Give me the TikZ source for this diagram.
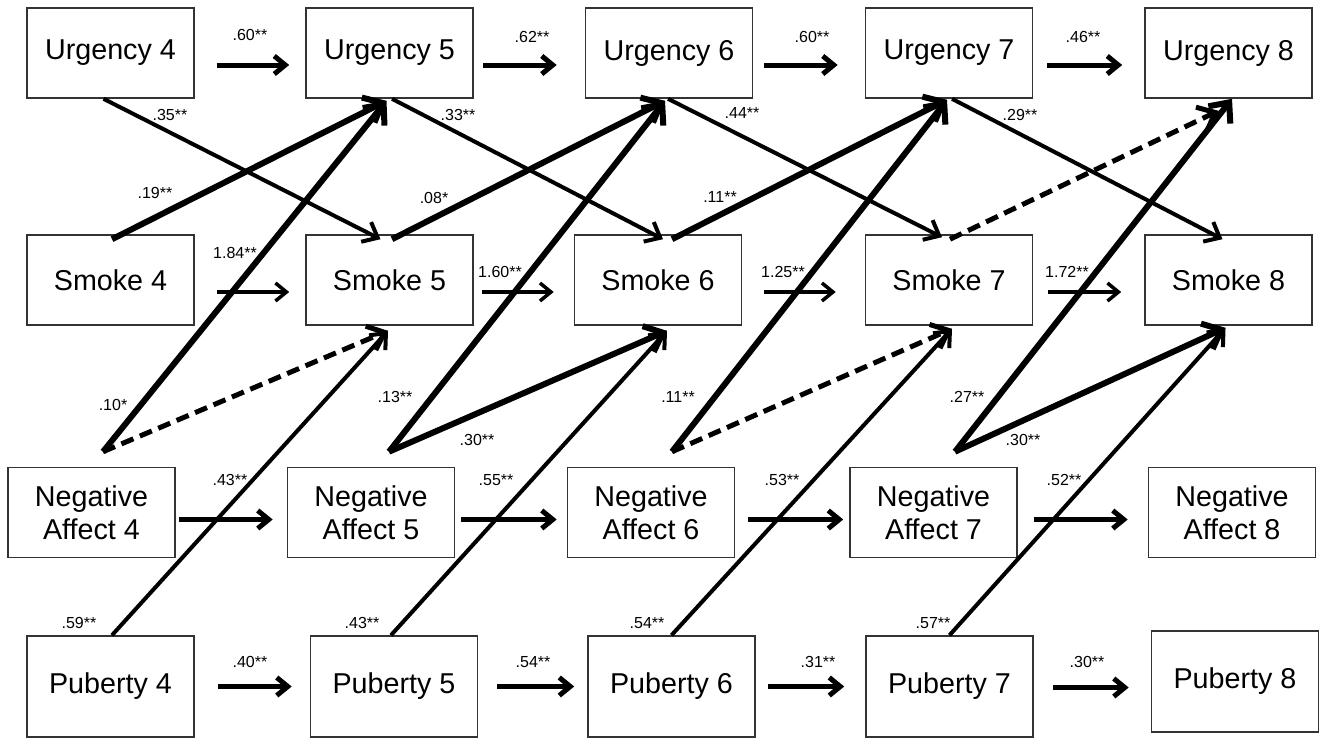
\documentclass[tikz,border=0pt]{standalone}
\usepackage{fontspec}
\setmainfont{Liberation Sans}
\usetikzlibrary{arrows.meta}

\tikzset{
  var/.style={shape=rectangle,draw=black!80,line width=1.6pt,minimum width=167pt,
    minimum height=90pt,inner sep=0pt,align=center,font=\fontsize{28.7}{33}\selectfont},
  coef/.style={inner sep=0pt,font=\fontsize{16}{18}\selectfont},
  lag/.style={-{Straight Barb[length=11pt,width=18pt]},line width=5pt},
  lagthin/.style={-{Straight Barb[length=11pt,width=18pt]},line width=3.5pt},
  thin/.style={-{Straight Barb[length=13pt,width=22pt]},line width=4pt},
  thick/.style={-{Straight Barb[length=16pt,width=28pt]},line width=6pt},
  nonsig/.style={-{Straight Barb[length=15pt,width=26pt]},line width=5pt,dash pattern=on 13pt off 7pt}
}

\begin{document}
\begin{tikzpicture}[x=1pt,y=-1pt]
\useasboundingbox[fill=white] (0,0) rectangle (1319,739);

% variables
\node(u4) at (110.5,53)[var]   {Urgency 4};
\node(u5) at (389.5,53)[var]   {Urgency 5};
\node(u6) at (669,53)[var]     {Urgency 6};
\node(u7) at (949,53)[var]     {Urgency 7};
\node(u8) at (1228.5,53)[var]  {Urgency 8};
\node(s4) at (110.5,280)[var]  {Smoke 4};
\node(s5) at (389.5,280)[var]  {Smoke 5};
\node(s6) at (658,280)[var]    {Smoke 6};
\node(s7) at (949,280)[var]    {Smoke 7};
\node(s8) at (1228.5,280)[var] {Smoke 8};
\node(n4) at (91.5,512.5)[var] {Negative\\Affect 4};
\node(n5) at (371,512.5)[var]  {Negative\\Affect 5};
\node(n6) at (651,512.5)[var]  {Negative\\Affect 6};
\node(n7) at (933.5,512.5)[var]{Negative\\Affect 7};
\node(n8) at (1232,512.5)[var] {Negative\\Affect 8};
\node(p4) at (110.5,686.5)[var,minimum height=101pt] {Puberty 4};
\node(p5) at (394,686.5)[var,minimum height=101pt]   {Puberty 5};
\node(p6) at (671.5,686.5)[var,minimum height=101pt] {Puberty 6};
\node(p7) at (949.5,686.5)[var,minimum height=101pt] {Puberty 7};
\node(p8) at (1235,681.5)[var,minimum height=101pt]  {Puberty 8};

% stability paths
\path [lag]
  ([shift={(22,12)}]u4.east)  edge ([shift={(-16,12)}]u5.west)
  ([shift={(9,12)}]u5.east)   edge ([shift={(-28,12)}]u6.west)
  ([shift={(11,12)}]u6.east)  edge ([shift={(-27,12)}]u7.west)
  ([shift={(14,12)}]u7.east)  edge ([shift={(-22,12)}]u8.west)
  ([shift={(3,7)}]n4.east)    edge ([shift={(-14,7)}]n5.west)
  ([shift={(6,7)}]n5.east)    edge ([shift={(-10,7)}]n6.west)
  ([shift={(13,7)}]n6.east)   edge ([shift={(-6,7)}]n7.west)
  ([shift={(16,7)}]n7.east)   edge ([shift={(-20,7)}]n8.west)
  ([shift={(23,0)}]p4.east)   edge ([shift={(-18,0)}]p5.west)
  ([shift={(19,0)}]p5.east)   edge ([shift={(-13,0)}]p6.west)
  ([shift={(12,0)}]p6.east)   edge ([shift={(-21,0)}]p7.west)
  ([shift={(19,1)}]p7.east)   edge ([shift={(-22,6)}]p8.west);
\path [lagthin]
  ([shift={(22,12)}]s4.east)  edge ([shift={(-16,12)}]s5.west)
  ([shift={(8,12)}]s5.east)   edge ([shift={(-20,12)}]s6.west)
  ([shift={(22,12)}]s6.east)  edge ([shift={(-29,12)}]s7.west)
  ([shift={(15,12)}]s7.east)  edge ([shift={(-23,12)}]s8.west);

% cross-lagged paths
\path [thin]
  ([shift={(-7,0)}]u4.south)  edge ([shift={(-9,5)}]s5.north)
  ([shift={(2.5,0)}]u5.south) edge ([shift={(5,5)}]s6.north)
  ([shift={(-1,0)}]u6.south)  edge ([shift={(-7,3)}]s7.north)
  ([shift={(3,0)}]u7.south)   edge ([shift={(-6,5)}]s8.north)
  ([shift={(1.5,0)}]p4.north) edge ([shift={(-1.5,5)}]s5.south)
  ([shift={(-3,0)}]p5.north)  edge ([shift={(9,5)}]s6.south)
  (p6.north)                  edge ([shift={(3,3)}]s7.south)
  (p7.north)                  edge ([shift={(-3,2)}]s8.south);
\path [thick]
  ([shift={(1.5,5)}]s4.north)   edge ([shift={(-3,2)}]u5.south)
  ([shift={(11.5,-15)}]n4.north) edge ([shift={(-3,2)}]u5.south)
  ([shift={(2.5,5)}]s5.north)   edge ([shift={(-4,2)}]u6.south)
  ([shift={(18,-15)}]n5.north)  edge ([shift={(-4,2)}]u6.south)
  ([shift={(18,-15)}]n5.north)  edge ([shift={(9,5)}]s6.south)
  ([shift={(14,5)}]s6.north)    edge ([shift={(-2,1)}]u7.south)
  ([shift={(21,-15)}]n6.north)  edge ([shift={(-2,1)}]u7.south)
  ([shift={(21.5,-15)}]n7.north) edge ([shift={(3.5,0)}]u8.south)
  ([shift={(21.5,-15)}]n7.north) edge ([shift={(-3,2)}]s8.south);
\path [nonsig]
  ([shift={(11.5,-15)}]n4.north) edge ([shift={(-1.5,5)}]s5.south)
  ([shift={(21,-15)}]n6.north)  edge ([shift={(3,3)}]s7.south)
  ([shift={(1,5)}]s7.north)     edge ([shift={(-10,12)}]u8.south);

% coefficients
\node(cu45) at (250,35)[coef]   {.60**};
\node(cu56) at (532,37)[coef]   {.62**};
\node(cu67) at (812,37)[coef]   {.60**};
\node(cu78) at (1083,37)[coef]  {.46**};
\node(cs45) at (235,253)[coef]  {1.84**};
\node(cs56) at (500,272)[coef]  {1.60**};
\node(cs67) at (783,272)[coef]  {1.25**};
\node(cs78) at (1067,272)[coef] {1.72**};
\node(cn45) at (230,480)[coef]  {.43**};
\node(cn56) at (496,480)[coef]  {.55**};
\node(cn67) at (782,480)[coef]  {.53**};
\node(cn78) at (1064,480)[coef] {.52**};
\node(cp45) at (250,662)[coef]  {.40**};
\node(cp56) at (533,662)[coef]  {.54**};
\node(cp67) at (818,662)[coef]  {.31**};
\node(cp78) at (1087,662)[coef] {.30**};
\node(us5) at (170,115)[coef]   {.35**};
\node(us6) at (458,115)[coef]   {.33**};
\node(us7) at (742,113)[coef]   {.44**};
\node(us8) at (1020,115)[coef]  {.29**};
\node(su5) at (155,193)[coef]   {.19**};
\node(su6) at (434,198)[coef]   {.08*};
\node(su7) at (720,197)[coef]   {.11**};
\node(nu5) at (113,405)[coef]   {.10*};
\node(nu6) at (395,397)[coef]   {.13**};
\node(nu7) at (678,397)[coef]   {.11**};
\node(nu8) at (967,397)[coef]   {.27**};
\node(ns6) at (477,440)[coef]   {.30**};
\node(ns8) at (1023,440)[coef]  {.30**};
\node(ps5) at (79,623)[coef]    {.59**};
\node(ps6) at (362,623)[coef]   {.43**};
\node(ps7) at (647,623)[coef]   {.54**};
\node(ps8) at (933,623)[coef]   {.57**};

\end{tikzpicture}
\end{document}
